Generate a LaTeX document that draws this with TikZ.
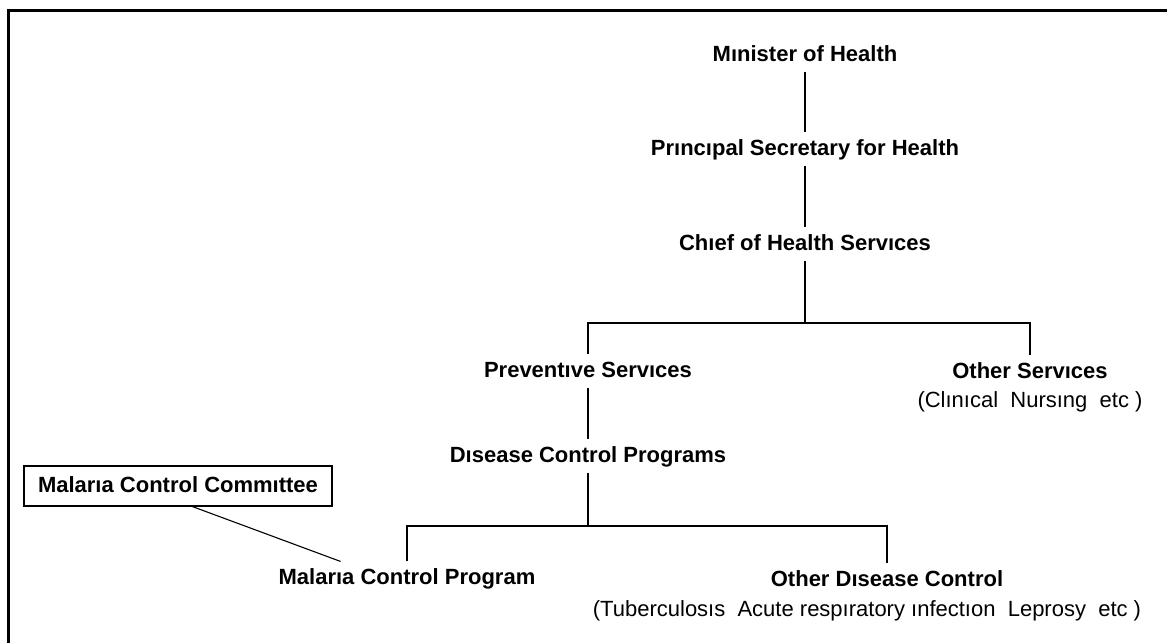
\documentclass[tikz,border=0pt]{standalone}
\usepackage{fontspec}
\setmainfont{Liberation Sans}
\usepackage{tikz}
\usetikzlibrary{positioning}

\begin{document}
\begin{tikzpicture}[x=1pt, y=-1pt, line width=1.1pt,
        every node/.style={font=\bfseries\fontsize{22}{26}\selectfont,
        text height=16pt, text depth=4pt, inner xsep=4pt, inner ysep=6pt},
        note/.style={font=\mdseries\fontsize{22}{26}\selectfont, inner ysep=0pt},
        box/.style={draw, minimum width=308pt, minimum height=40pt}]
        \useasboundingbox (0,0) rectangle (1167,643);
        \draw[line width=3pt] (8,643) |- (1167,10);

        \node (MH) at (805, 55) {Mınister of Health};
        \node (PS) at (805, 149) {Prıncıpal Secretary for Health};
        \node (CH) at (805, 244) {Chıef of Health Servıces};
        \node (PV) at (588, 371) {Preventıve Servıces};
        \node (OS) at (1030, 372) {Other Servıces};
        \node[note, below=2pt of OS] (OSn) {(Clınıcal\ \ Nursıng\ \ etc )};
        \node (DC) at (588, 456) {Dısease Control Programs};
        \node (MP) at (407, 578) {Malarıa Control Program};
        \node (OD) at (887, 580) {Other Dısease Control};
        \node[note, below=3pt of OD, xshift=-20pt] (ODn)
            {(Tuberculosıs\ \ Acute respıratory ınfectıon\ \ Leprosy\ \ etc )};
        \node[box] (MC) at (178, 486) {Malarıa Control Commıttee};
        \coordinate (J1) at (805, 323);
        \coordinate (J2) at (588, 526);

        \draw (MH) -- (PS);
        \draw (PS) -- (CH);
        \draw (CH) -- (J1);
        \draw (PV.north) |- (J1) -| (OS.north);
        \draw (PV) -- (DC);
        \draw (DC) -- (J2);
        \draw (MP.north) |- (J2) -| (OD.north);
        \draw (MC.-55) -- (MP.166);
    \end{tikzpicture}
\end{document}
